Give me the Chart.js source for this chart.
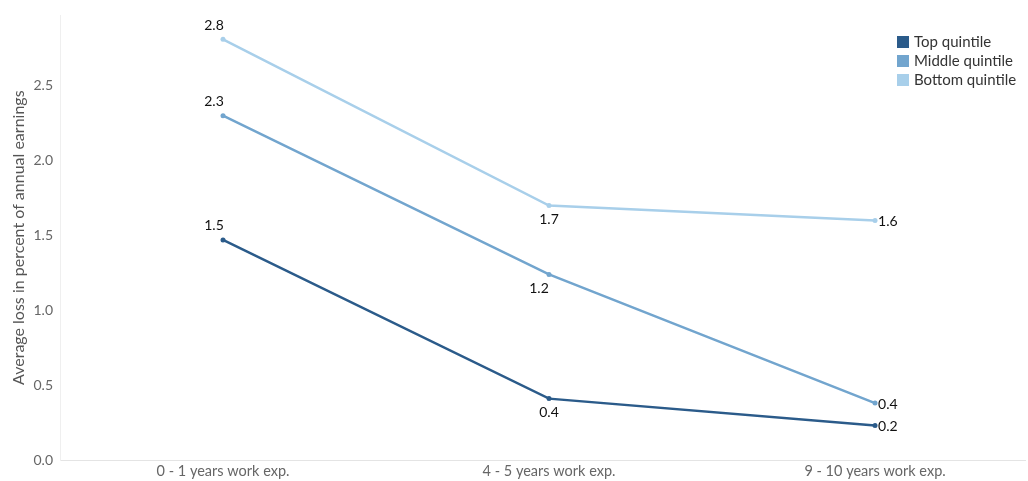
<!DOCTYPE html>
<html>
<head>
<meta charset="utf-8">
<script src="https://cdn.jsdelivr.net/npm/chart.js@4"></script>
<style>
  html, body { margin: 0; padding: 0; background: #fff; overflow: hidden; }
  #wrap { width: 1028px; height: 481px; }
</style>
</head>
<body>
<div id="wrap"><canvas id="lossChart"></canvas></div>
<script>
// categories and values
const categories = ['0 - 1 years work exp.', '4 - 5 years work exp.', '9 - 10 years work exp.'];
const seriesNames = ['Top quintile', 'Middle quintile', 'Bottom quintile'];
const topValues = [1.47, 0.41, 0.23];
const middleValues = [2.30, 1.24, 0.38];
const bottomValues = [2.81, 1.70, 1.60];
const yTicks = [0, 0.5, 1.0, 1.5, 2.0, 2.5];

const colors = ['#2b5b8a', '#72a5ce', '#a8cfea'];
const FONT = 'Lato, "Open Sans", sans-serif';

function toPoints(values) {
    return values.map((v, i) => ({ x: i, y: v }));
}

// value labels next to each point
const valueLabels = {
    id: 'valueLabels',
    afterDatasetsDraw(chart) {
        const ctx = chart.ctx;
        ctx.save();
        ctx.font = '14px ' + FONT;
        ctx.fillStyle = '#111';
        chart.data.datasets.forEach((ds, di) => {
            const meta = chart.getDatasetMeta(di);
            meta.data.forEach((pt, i) => {
                const txt = ds.data[i].y.toFixed(1);
                ctx.textBaseline = 'middle';
                if (i === 0) {
                    ctx.textAlign = 'center';
                    ctx.fillText(txt, pt.x - 9, pt.y - 14);
                } else if (i === 1) {
                    ctx.textAlign = 'center';
                    const dx = di === 1 ? -10 : 0;
                    ctx.fillText(txt, pt.x + dx, pt.y + 14);
                } else {
                    ctx.textAlign = 'left';
                    ctx.fillText(txt, pt.x + 3, pt.y + 1);
                }
            });
        });
        ctx.restore();
    }
};

// small square legend in the top right corner
const boxLegend = {
    id: 'boxLegend',
    afterDraw(chart) {
        const ctx = chart.ctx;
        ctx.save();
        ctx.font = '15px ' + FONT;
        ctx.textAlign = 'left';
        ctx.textBaseline = 'middle';
        chart.data.datasets.forEach((ds, i) => {
            const y = 42 + i * 19;
            ctx.fillStyle = ds.borderColor;
            ctx.fillRect(897, y - 6, 12, 12);
            ctx.fillStyle = '#333';
            ctx.fillText(ds.label, 914, y);
        });
        ctx.restore();
    }
};

new Chart(document.getElementById('lossChart'), {
    type: 'line',
    data: {
        datasets: [
            { label: seriesNames[0], data: toPoints(topValues), borderColor: colors[0], backgroundColor: colors[0] },
            { label: seriesNames[1], data: toPoints(middleValues), borderColor: colors[1], backgroundColor: colors[1] },
            { label: seriesNames[2], data: toPoints(bottomValues), borderColor: colors[2], backgroundColor: colors[2] }
        ]
    },
    options: {
        responsive: true,
        maintainAspectRatio: false,
        animation: false,
        layout: { padding: { top: 15, right: 3, left: 0, bottom: 0 } },
        elements: {
            line: { borderWidth: 2.5, tension: 0 },
            point: { radius: 2.5, hoverRadius: 3, borderWidth: 0 }
        },
        plugins: {
            legend: { display: false },
            tooltip: { enabled: false }
        },
        scales: {
            x: {
                type: 'linear',
                min: -0.5,
                max: 2.46,
                grid: { display: false, drawTicks: false },
                border: { color: '#e4e4e4', width: 1 },
                afterBuildTicks(scale) {
                    scale.ticks = categories.map((c, i) => ({ value: i }));
                },
                afterFit(scale) { scale.height = 21; },
                ticks: {
                    padding: 3,
                    color: '#666',
                    font: { family: FONT, size: 14.5 },
                    callback: (v) => categories[v]
                }
            },
            y: {
                min: 0,
                max: 2.97,
                grid: { display: false, drawTicks: false },
                border: { color: '#efefef', width: 1 },
                afterBuildTicks(scale) {
                    scale.ticks = yTicks.map(v => ({ value: v }));
                },
                afterFit(scale) { scale.width = 60; },
                title: {
                    display: true,
                    text: 'Average loss in percent of annual earnings',
                    color: '#555',
                    font: { family: FONT, size: 16 },
                    padding: { top: 9, bottom: 0 }
                },
                ticks: {
                    padding: 7,
                    color: '#666',
                    font: { family: FONT, size: 14 },
                    callback: (v) => v.toFixed(1)
                }
            }
        }
    },
    plugins: [valueLabels, boxLegend]
});
</script>
</body>
</html>
